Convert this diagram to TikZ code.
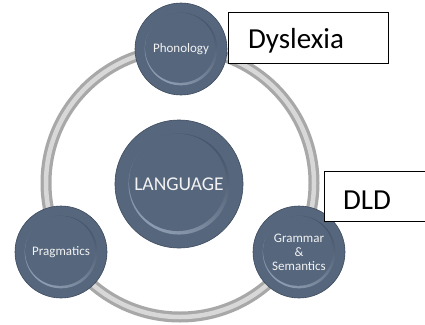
\documentclass[tikz,border=0pt]{standalone}
\usepackage{fontspec}
\setmainfont{Carlito}
\usetikzlibrary{shadings}
\definecolor{discdark}{HTML}{3E4B5E}
\definecolor{discmid}{HTML}{55667D}
\definecolor{disclight}{HTML}{8D9CB0}
\definecolor{ringout}{HTML}{A8A8A8}
\definecolor{ringin}{HTML}{D8D8D8}
\definecolor{disctext}{HTML}{F2F2F2}
\tikzset{
  disc/.style={circle, draw=discdark, line width=0.6pt, fill=discmid, inner sep=0pt, text=white, align=center},
  labelbox/.style={draw=black, line width=1pt, fill=white, inner sep=0pt},
  disclabel/.style={text=disctext, align=center},
}
\newcommand{\fancydisc}[4]{% name, x, y, r
  \node[disc, minimum size=#4*2pt] (#1) at (#2,#3) {};
  \shade[shading=axis, top color=discdark!60!discmid, bottom color=disclight, shading angle=-35] (#2,#3) circle ({#4*0.79});
  \fill[discmid] (#2-#4*0.02,#3-#4*0.025) circle ({#4*0.76});
}
\begin{document}
\begin{tikzpicture}[x=1pt,y=-1pt]
\useasboundingbox (0,0) rectangle (425,324);
\fill[white] (0,0) rectangle (425,324);
% ring
\node[circle, draw=ringout, line width=11pt, minimum size=268pt, inner sep=0pt] (ring) at (180,183) {};
\draw[ringin, line width=4.5pt] (ring.center) circle (134);
% discs
\fancydisc{phon}{181}{49}{46}
\fancydisc{lang}{179}{184}{64}
\fancydisc{prag}{61}{252}{46}
\fancydisc{gram}{299}{252}{46}
\node[disclabel, font=\fontsize{13}{15}\selectfont] (tphon) at (phon.center) {Phonology};
\node[disclabel, font=\fontsize{19.5}{22}\selectfont] (tlang) at (lang.center) {LANGUAGE};
\node[disclabel, font=\fontsize{13}{15}\selectfont] (tprag) at (prag.center) {Pragmatics};
\node[disclabel, font=\fontsize{13}{14}\selectfont] (tgram) at (gram.center) {Grammar\\\&\\Semantics};
% boxes
\node[labelbox, minimum width=160pt, minimum height=51pt, anchor=north west] (dys) at (228,12) {};
\node[font=\fontsize{29}{32}\selectfont] (tdys) at (296,41) {Dyslexia};
\node[labelbox, minimum width=110pt, minimum height=50pt, anchor=north west] (dld) at (324,171) {};
\node[font=\fontsize{29}{32}\selectfont] (tdld) at (367,200) {DLD};
\end{tikzpicture}
\end{document}
